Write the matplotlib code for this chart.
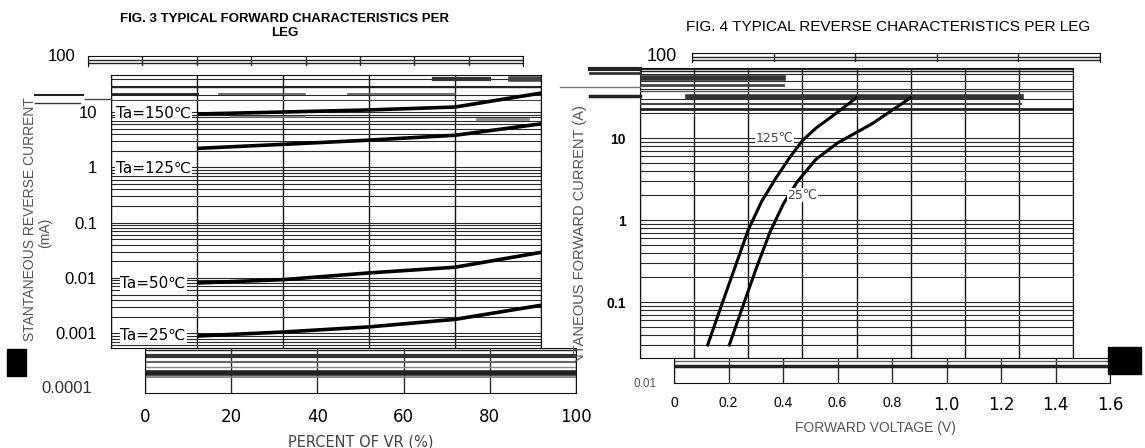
import matplotlib
matplotlib.use('Agg')
import matplotlib.pyplot as plt
import matplotlib.patches as mpatches
from matplotlib.lines import Line2D
from matplotlib.transforms import Bbox

W, H = 1145, 448

# FIG. 3 - reverse current vs percent of rated VR
pct_vr = [20, 40, 60, 80, 100]
ir_150 = [9.2, 10.0, 10.9, 12.3, 22.0]
ir_125 = [2.2, 2.6, 3.1, 3.8, 6.1]
ir_50 = [0.0081, 0.0093, 0.0123, 0.0156, 0.029]
ir_25 = [0.00089, 0.00105, 0.0013, 0.00178, 0.0032]
rev_labels = ['Ta=150℃', 'Ta=125℃', 'Ta=50℃', 'Ta=25℃']
pct_ticks = [0, 20, 40, 60, 80, 100]
ir_ticks = [10, 1, 0.1, 0.01, 0.001]
ir_tick_labels = ['10', '1', '0.1', '0.01', '0.001']

# FIG. 4 - forward current vs forward voltage
vf_125 = [0.25, 0.30, 0.35, 0.40, 0.45, 0.50, 0.55, 0.60, 0.65, 0.70, 0.80]
if_125 = [0.030, 0.089, 0.26, 0.76, 1.7, 3.16, 5.6, 9.3, 13.2, 17.4, 31]
vf_25 = [0.33, 0.38, 0.43, 0.48, 0.53, 0.58, 0.65, 0.73, 0.86, 1.0]
if_25 = [0.030, 0.089, 0.26, 0.71, 1.58, 2.9, 5.5, 8.7, 15.1, 31]
fwd_labels = ['125℃', '25℃']
vf_ticks = [0, 0.2, 0.4, 0.6, 0.8, 1.0, 1.2, 1.4, 1.6]
vf_tick_labels = ['0', '0.2', '0.4', '0.6', '0.8', '1.0', '1.2', '1.4', '1.6']
if_ticks = [10, 1, 0.1]
if_tick_labels = ['10', '1', '0.1']

ARIAL = 'Liberation Sans'
GRID = '#2a2a2a'


def box(x0, y0, x1, y1):
    """pixel box (top-left origin) -> figure fraction rect"""
    return [x0 / W, 1 - y1 / H, (x1 - x0) / W, (y1 - y0) / H]


def strip(fig, rect, xlim, ticks, hlines):
    ax = fig.add_axes(rect)
    ax.set_xlim(*xlim)
    ax.set_ylim(0, 1)
    ax.set_xticks(ticks)
    ax.set_yticks([])
    ax.grid(True, axis='x', color=GRID, lw=1)
    for y, lw, c in hlines:
        ax.axhline(y, color=c, lw=lw)
    for s in ax.spines.values():
        s.set_color('#111')
    return ax


def scan_lines(fig, segs):
    # stray line fragments of the scanned sheet, in pixel coords
    for x0, x1, y, lw, c in segs:
        fig.add_artist(Line2D([x0 / W, x1 / W], [1 - y / H, 1 - y / H],
                              transform=fig.transFigure, color=c, lw=lw))


fig = plt.figure(figsize=(W / 100, H / 100), dpi=100)

# ---------------- FIG. 3 ----------------
ax1 = fig.add_axes(box(111, 75, 541, 348))
ax1.set_yscale('log')
ax1.set_xlim(0, 100)
ax1.set_ylim(5.4e-4, 46.7)
ax1.set_xticks(pct_ticks)
ax1.set_yticks(ir_ticks)
ax1.set_yticklabels(ir_tick_labels, fontsize=12, family=ARIAL)
ax1.tick_params(axis='y', which='both', length=0, pad=10)
ax1.tick_params(axis='x', length=0, labelbottom=False)
ax1.grid(True, axis='y', which='both', color=GRID, lw=0.8)
ax1.grid(True, axis='x', which='major', color='#111', lw=1)
for s in ax1.spines.values():
    s.set_color('#111')

for vals in (ir_150, ir_125, ir_50, ir_25):
    ax1.plot(pct_vr, vals, color='black', lw=2.6, solid_capstyle='butt', zorder=5)

lab_y = [9.6, 0.97, 0.0081, 0.00093]
lab_x = [1.2, 1.2, 2.2, 2.2]
for t, x, y in zip(rev_labels, lab_x, lab_y):
    ax1.text(x, y, t, fontsize=11, ha='left', va='center', zorder=6,
             bbox=dict(facecolor='white', edgecolor='none', pad=0.5))

# clutter band at the top of the plot (scan overlap)
for y, x0, x1, lw, c in [(0.985, 0.75, 0.88, 3, '#333'), (0.985, 0.93, 1.0, 4, '#444'),
                         (0.955, 0.0, 1.0, 1, '#222'), (0.93, 0.0, 0.2, 2, '#222'),
                         (0.93, 0.25, 0.45, 1.2, '#555'), (0.93, 0.55, 0.8, 1.2, '#555'),
                         (0.91, 0.0, 1.0, 0.8, '#444'),
                         (0.87, 0.03, 0.17, 3, '#777'), (0.845, 0.28, 0.45, 1.2, '#777'),
                         (0.84, 0.85, 0.97, 2, '#888')]:
    ax1.plot([x0, x1], [y, y], transform=ax1.transAxes, color=c, lw=lw, zorder=4)

ax1t = strip(fig, box(88, 56, 523, 66), (0, 8), range(9),
             [(0.6, 1, '#222'), (0.25, 1, '#222')])
ax1t.tick_params(length=0, labelbottom=False)
ax1t.spines['bottom'].set_visible(False)

ax1b = strip(fig, box(145, 348, 576, 393), (0, 100), pct_ticks,
             [(0.95, 1, '#222'), (0.82, 3, '#333'), (0.7, 1.5, '#666'),
              (0.58, 1, '#888'), (0.45, 4, '#222'), (0.36, 1.2, '#777')])
ax1b.set_xticklabels([str(v) for v in pct_ticks], fontsize=12)
ax1b.tick_params(length=0, pad=11)
ax1b.set_xlabel('PERCENT OF VR (%)', fontsize=10.5, color='#444')
ax1b.xaxis.set_label_coords(0.5, -0.92)

ax1.text(-0.114, 100, '100', transform=ax1.get_yaxis_transform(), fontsize=12,
         family=ARIAL, ha='center', va='center', clip_on=False)
ax1.text(-0.102, 0.0001, '0.0001', transform=ax1.get_yaxis_transform(), fontsize=12,
         family=ARIAL, ha='center', va='center', color='#333', clip_on=False)

ylab1 = fig.text(30 / W, 1 - 226 / H, 'INSTANTANEOUS REVERSE CURRENT', rotation=90,
                 fontsize=10, family=ARIAL, color='#555', ha='center', va='center')
ylab1.set_clip_box(Bbox([[0, H - 342], [W, H]]))
ylab1.set_clip_on(True)
fig.text(45 / W, 1 - 233 / H, '(mA)', rotation=90, fontsize=10, family=ARIAL,
         color='#555', ha='center', va='center')

fig.text(285 / W, 1 - 26 / H, 'FIG. 3 TYPICAL FORWARD CHARACTERISTICS PER\nLEG',
         fontsize=9.5, family=ARIAL, weight='bold', ha='center', va='center',
         linespacing=1.25)

scan_lines(fig, [(35, 83, 95, 1.5, '#222'), (35, 80, 103, 1, '#333'),
                 (85, 111, 99, 1, '#444')])

# ---------------- FIG. 4 ----------------
ax2 = fig.add_axes(box(640, 68, 1073, 358))
ax2.set_yscale('log')
ax2.set_xlim(0, 1.6)
ax2.set_ylim(0.0208, 71.4)
ax2.set_xticks(vf_ticks)
ax2.set_yticks(if_ticks)
ax2.set_yticklabels(if_tick_labels, fontsize=10, family=ARIAL, weight='bold')
ax2.tick_params(axis='y', which='both', length=0, pad=10)
ax2.tick_params(axis='x', length=0, labelbottom=False)
ax2.grid(True, axis='y', which='both', color=GRID, lw=0.8)
ax2.grid(True, axis='x', which='major', color='#111', lw=1)
for s in ax2.spines.values():
    s.set_color('#111')

ax2.plot(vf_125, if_125, color='black', lw=2.2, zorder=5)
ax2.plot(vf_25, if_25, color='black', lw=2.2, zorder=5)
ax2.text(0.497, 10, fwd_labels[0], fontsize=9, color='#444', ha='center', va='center',
         zorder=6, bbox=dict(facecolor='white', edgecolor='none', pad=0.3))
ax2.text(0.60, 2.0, fwd_labels[1], fontsize=9, color='#444', ha='center', va='center',
         zorder=6, bbox=dict(facecolor='white', edgecolor='none', pad=0.3))

for y, x0, x1, lw, c in [(0.99, 0.0, 1.0, 1, '#222'), (0.965, 0.0, 0.33, 4, '#333'),
                         (0.94, 0.0, 0.33, 2, '#444'), (0.92, 0.0, 1.0, 1, '#555'),
                         (0.9, 0.11, 0.88, 4, '#333'), (0.875, 0.0, 0.88, 1.5, '#444'),
                         (0.86, 0.0, 1.0, 2, '#222')]:
    ax2.plot([x0, x1], [y, y], transform=ax2.transAxes, color=c, lw=lw, zorder=4)

ax2t = strip(fig, box(692, 53, 1100, 62), (0, 5), range(6),
             [(0.55, 1, '#222'), (0.2, 1, '#222')])
ax2t.tick_params(length=0, labelbottom=False)
ax2t.spines['bottom'].set_visible(False)
scan_lines(fig, [(590, 640, 69, 3, '#222'), (590, 640, 73, 2, '#333'),
                 (590, 640, 96, 2.5, '#222'), (560, 640, 87, 1, '#777')])

ax2b = strip(fig, box(674, 358, 1110, 383), (0, 1.6), vf_ticks,
             [(0.9, 1, '#666'), (0.7, 2.5, '#222')])
ax2b.set_xticklabels(vf_tick_labels, fontsize=10, family=ARIAL)
for lab in ax2b.get_xticklabels()[5:]:
    lab.set_fontsize(12)
    lab.set_family('DejaVu Sans')
ax2b.tick_params(length=0, pad=9)
ax2b.set_xlabel('FORWARD VOLTAGE (V)', fontsize=10, family=ARIAL, color='#555')
ax2b.xaxis.set_label_coords(0.462, -1.5)

ax2.text(0.051, 100, '100', transform=ax2.get_yaxis_transform(), fontsize=13,
         family=ARIAL, ha='center', va='center', clip_on=False)
ax2.text(0.012, 0.01, '0.01', transform=ax2.get_yaxis_transform(), fontsize=8.5,
         family=ARIAL, ha='center', va='center', color='#555', clip_on=False)

ylab2 = fig.text(580 / W, 1 - 256 / H, 'INSTANTANEOUS FORWARD CURRENT (A)', rotation=90,
                 fontsize=10.5, family=ARIAL, color='#555', ha='center', va='center')
ylab2.set_clip_box(Bbox([[0, H - 362], [W, H]]))
ylab2.set_clip_on(True)

fig.text(888 / W, 1 - 27 / H, 'FIG. 4 TYPICAL REVERSE CHARACTERISTICS PER LEG',
         fontsize=11, family=ARIAL, ha='center', va='center')

# solid black blocks left over from the scan
fig.patches.append(mpatches.Rectangle((7 / W, 1 - 376 / H), 19 / W, 27 / H,
                                      transform=fig.transFigure, color='black'))
fig.patches.append(mpatches.Rectangle((1108 / W, 1 - 374 / H), 33 / W, 27 / H,
                                      transform=fig.transFigure, color='black'))

fig.savefig('out.png', dpi=100)
